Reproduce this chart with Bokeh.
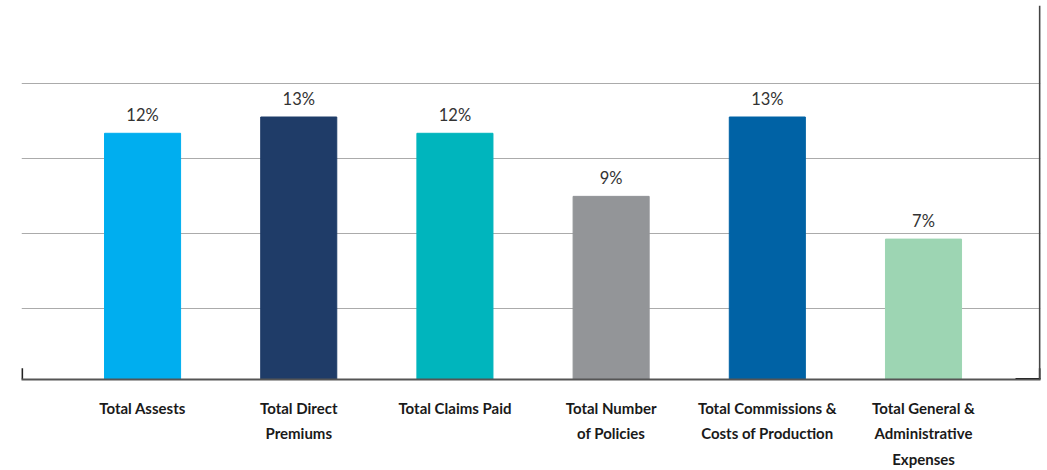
from bokeh.plotting import figure
from bokeh.models import ColumnDataSource, FixedTicker, Range1d, Grid, Span
from bokeh.core.properties import value
from bokeh.embed import file_html
from bokeh.resources import INLINE

# ---- data ----
categories = [
    "Total Assests",
    "Total Direct\nPremiums",
    "Total Claims Paid",
    "Total Number\nof Policies",
    "Total Commissions &\nCosts of Production",
    "Total General &\nAdministrative\nExpenses",
]
growth_pct = [12.1, 12.9, 12.1, 9.0, 12.9, 6.9]
bar_colors = ["#00AEEF", "#1F3C68", "#00B5BD", "#939598", "#0062A5", "#9DD5B3"]
grid_ticks = [3.48, 7.16, 10.88, 14.56]

xs = list(range(len(categories)))
labels = [f"{round(v)}%" for v in growth_pct]

X0, X1 = -0.775, 5.749
Y0, Y1 = 0, 18.38

src = ColumnDataSource(dict(x=xs, v=growth_pct, color=bar_colors, label=labels))

p = figure(
    width=1044, height=470,
    x_range=Range1d(X0, X1), y_range=Range1d(Y0, Y1),
    y_axis_location=None,
    output_backend="svg", toolbar_location=None,
    min_border_left=21, min_border_right=4, min_border_top=5, min_border_bottom=90,
    background_fill_color="white", border_fill_color="white",
    outline_line_color=None,
)

# remove default grids, add custom horizontal grid
p.center = [r for r in p.center if not isinstance(r, Grid)]
p.add_layout(Grid(dimension=1, ticker=FixedTicker(ticks=grid_ticks),
                  grid_line_color="#ababab", grid_line_width=1.2))

# right-side vertical line
p.add_layout(Span(location=X1 - 0.004, dimension="height", line_color="#444444", line_width=2))

p.vbar(x="x", top="v", width=0.487, color="color", source=src)

p.text(x="x", y="v", text="label", source=src, text_align="center", text_baseline="bottom",
       y_offset=-8, text_font=value("Lato"), text_font_size="16.5px", text_color="#333333")

# end ticks of the baseline
p.segment(x0=[X0 + 0.004, X1 - 0.004], y0=[0, 0], x1=[X0 + 0.004, X1 - 0.004], y1=[0.55, 0.55],
          line_color=["#222222", "#000000"], line_width=2)
p.segment(x0=[X1 - 0.16], y0=[0.02], x1=[X1], y1=[0.02], line_color="#000000", line_width=2)

ax = p.xaxis[0]
ax.ticker = FixedTicker(ticks=xs)
ax.major_label_overrides = {i: c for i, c in zip(xs, categories)}
ax.axis_line_color = "#555555"
ax.axis_line_width = 2
ax.major_tick_line_color = None
ax.minor_tick_line_color = None
ax.major_label_standoff = 13
ax.major_label_text_font = "Lato"
ax.major_label_text_font_style = "bold"
ax.major_label_text_font_size = "15px"
ax.major_label_text_color = "#1a1a1a"
ax.major_label_text_line_height = 1.42

open("out.html", "w").write(file_html(p, INLINE))
